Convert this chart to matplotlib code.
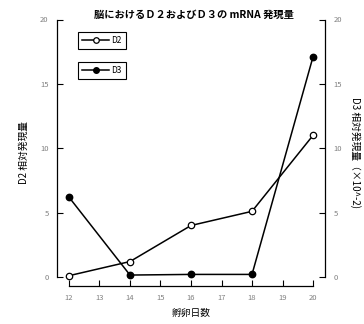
import matplotlib
matplotlib.use("Agg")
import matplotlib.pyplot as plt
from matplotlib.lines import Line2D

plt.rcParams['font.family'] = ['Noto Sans CJK JP', 'DejaVu Sans']

days = [12, 14, 16, 18, 20]
d2_values = [0.1, 1.2, 4.0, 5.1, 11.0]
d3_values = [6.2, 0.15, 0.2, 0.2, 17.1]
x_ticks = [12, 13, 14, 15, 16, 17, 18, 19, 20]
y_ticks = [0, 5, 10, 15, 20]

title = "脳におけるＤ２およびＤ３の mRNA 発現量"

fig = plt.figure(figsize=(3.64, 3.24), dpi=100)
ax = fig.add_axes([57/364, 1-286/324, (325-57)/364, (286-19.5)/324])
ax2 = ax.twinx()

ax.set_xlim(11.607, 20.393)
for a in (ax, ax2):
    a.set_ylim(-0.7, 20)
    a.spines['top'].set_visible(False)
    a.patch.set_visible(False)

ax.plot(days, d2_values, color='black', lw=1.1, marker='o', ms=4.6,
        mfc='white', mec='black', mew=0.9)
ax2.plot(days, d3_values, color='black', lw=1.1, marker='o', ms=4.6,
         mfc='black', mec='black')

ax.spines['left'].set_bounds(0, 20)
ax.spines['bottom'].set_bounds(12, 20)
ax.spines['right'].set_visible(False)
ax2.spines['left'].set_visible(False)
ax2.spines['bottom'].set_visible(False)
ax2.spines['right'].set_bounds(0, 20)
for s in ('left', 'bottom'):
    ax.spines[s].set_linewidth(0.9)
ax2.spines['right'].set_linewidth(0.9)

ax.set_xticks(x_ticks)
ax.set_yticks(y_ticks)
ax2.set_yticks(y_ticks)
tick_kw = dict(direction='in', length=4, width=0.8, labelsize=5.5,
               labelcolor='#808080', pad=6)
ax.tick_params(axis='both', **tick_kw)
ax2.tick_params(axis='y', **tick_kw)

ax.set_xlabel("孵卵日数", fontsize=7, labelpad=4)
ax.set_ylabel("D2 相対発現量", fontsize=7, labelpad=8)
ax2.set_ylabel("D3 相対発現量（×10^-2)", fontsize=7, rotation=-90,
               labelpad=14)
fig.text(0.533, 0.953, title, ha='center', va='center', fontsize=7.4,
         fontweight='bold')

h2 = Line2D([], [], color='black', lw=1.1, marker='o', ms=4,
            mfc='white', mec='black', mew=0.9)
h3 = Line2D([], [], color='black', lw=1.1, marker='o', ms=4,
            mfc='black', mec='black')
leg_kw = dict(fontsize=6, frameon=True, fancybox=False, edgecolor='black',
              handlelength=3.2, handletextpad=0.3, borderpad=0.5,
              borderaxespad=0, framealpha=1)
leg1 = ax.legend([h2], ["D2"], loc='upper left',
                 bbox_to_anchor=(78/364, 1-32/324),
                 bbox_transform=fig.transFigure, **leg_kw)
leg1.get_frame().set_linewidth(0.8)
ax.add_artist(leg1)
leg2 = ax.legend([h3], ["D3"], loc='upper left',
                 bbox_to_anchor=(78/364, 1-62/324),
                 bbox_transform=fig.transFigure, **leg_kw)
leg2.get_frame().set_linewidth(0.8)

fig.savefig("out.png", dpi=100)
